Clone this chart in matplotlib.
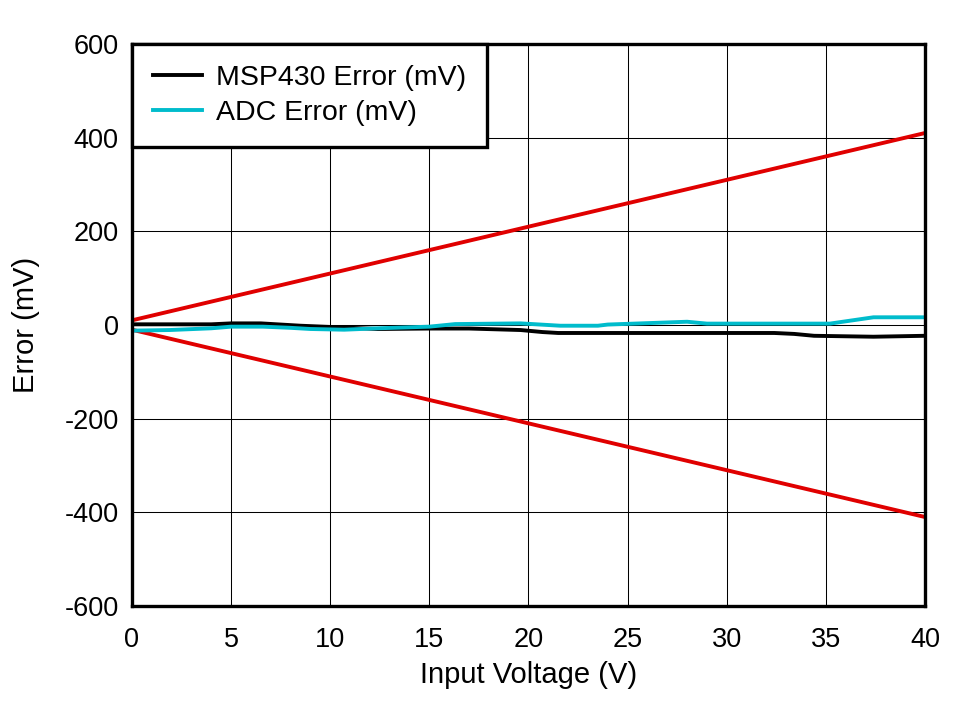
import numpy as np
import matplotlib.pyplot as plt

plt.rcParams['font.family'] = ['Liberation Sans', 'DejaVu Sans']
plt.rcParams['axes.unicode_minus'] = False

# input voltage (V)
volts = [0, 2, 4, 5, 6.5, 8.5, 10.5, 12.4, 15, 17, 19.6, 20.7, 21.5, 24, 28, 32.4, 33.4, 34.4, 37.4, 40]
msp430_err = [1.5, 1.5, 1.5, 3.5, 3.5, -1.5, -5, -8.5, -7.5, -7.5, -10.7, -15, -17, -17, -17, -17, -19, -23, -25, -23]

adc_volts = [0, 1.9, 4, 5, 6.6, 8, 9, 10.7, 12.4, 15, 16.3, 19.6, 21.6, 23.5, 24, 26, 28, 29, 35.2, 37.4, 40]
adc_err = [-12, -10.7, -7, -3.5, -3.5, -6, -8.5, -10, -7, -3.5, 2, 3.5, -1.5, -1.5, 1, 4, 7, 3, 3, 16.5, 16.5]

# limits: +/-(1% + 10 mV)
lim_volts = [0, 40]
upper_lim = [10, 410]
lower_lim = [-10, -410]

fig = plt.figure(figsize=(9.66, 7.01), dpi=100)
ax = fig.add_axes([0.1366, 0.1355, 0.821, 0.8017])

ax.plot(lim_volts, upper_lim, color='#e00000', lw=2.8)
ax.plot(lim_volts, lower_lim, color='#e00000', lw=2.8)
ax.plot(volts, msp430_err, color='black', lw=2.8, label='MSP430 Error (mV)')
ax.plot(adc_volts, adc_err, color='#00bccc', lw=2.8, label='ADC Error (mV)')

ax.set_xlim(0, 40)
ax.set_ylim(-600, 600)
ax.set_xticks(np.arange(0, 41, 5))
ax.set_yticks(np.arange(-600, 601, 200))
ax.grid(True, color='black', lw=0.75)
ax.tick_params(length=0, labelsize=19.5)
ax.tick_params(axis='x', pad=15)
ax.tick_params(axis='y', pad=9.5)
for s in ax.spines.values():
    s.set_linewidth(2.4)

ax.set_xlabel('Input Voltage (V)', fontsize=21, labelpad=6)
ax.set_ylabel('Error (mV)', fontsize=21, labelpad=18)

leg = ax.legend(loc='upper left', fontsize=20.5, borderaxespad=0, fancybox=False,
                framealpha=1, edgecolor='black', handlelength=1.7,
                handletextpad=0.5, labelspacing=0.3, borderpad=0.75)
leg.get_frame().set_linewidth(2.4)

fig.savefig('out.png', dpi=100)
